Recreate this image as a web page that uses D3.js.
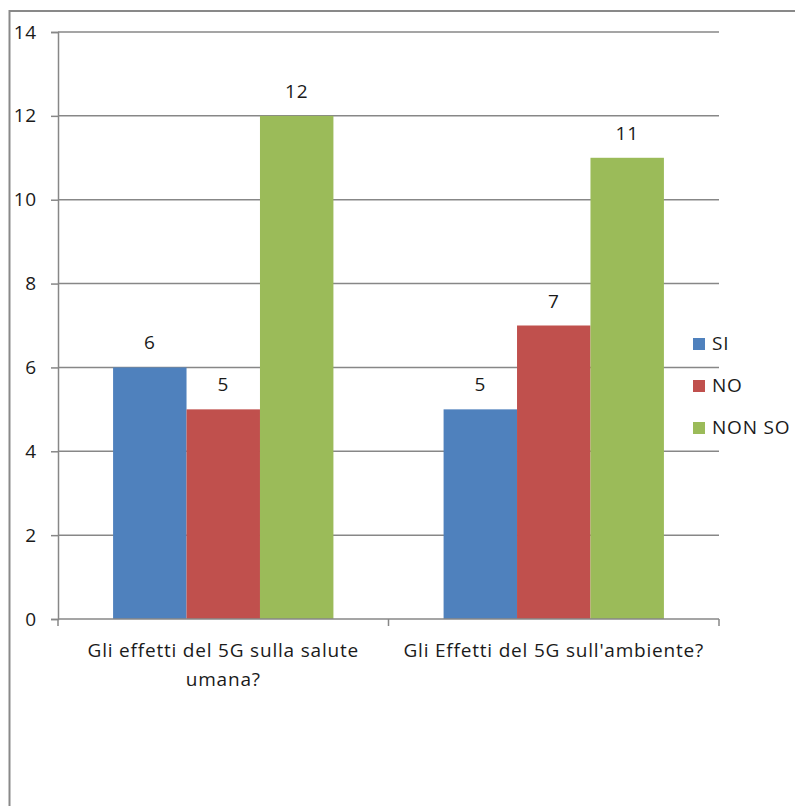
<!DOCTYPE html>
<html>
<head>
<meta charset="utf-8">
<script src="https://cdn.jsdelivr.net/npm/d3@7"></script>
<style>
  body { margin: 0; background: #fff; }
  svg text { font-family: "Open Sans", "Liberation Sans", Arial, sans-serif; fill: #1a1a1a; letter-spacing: 0.8px; }
</style>
</head>
<body>
<div id="chart"></div>
<script>
var categories = [["Gli effetti del 5G sulla salute", "umana?"], ["Gli Effetti del 5G sull'ambiente?"]];
var seriesNames = ["SI", "NO", "NON SO"];
var valuesSI = [6, 5];
var valuesNO = [5, 7];
var valuesNONSO = [12, 11];
var yTicks = [0, 2, 4, 6, 8, 10, 12, 14];
var colors = ["#4F81BD", "#C0504D", "#9BBB59"];

var width = 795, height = 806;
var margin = {left: 58, top: 32, right: 76, bottom: 187};
var plotW = width - margin.left - margin.right;
var plotH = height - margin.top - margin.bottom;
var fontSize = "19px";

var svg = d3.select("#chart").append("svg")
    .attr("width", width)
    .attr("height", height);

//outer chart frame, runs off the right and bottom of the picture
svg.append("rect")
    .attr("x", 9.5).attr("y", 11)
    .attr("width", 900).attr("height", 900)
    .attr("fill", "none")
    .attr("stroke", "#898989")
    .attr("stroke-width", 2);

var g = svg.append("g").attr("transform", "translate(" + margin.left + "," + margin.top + ")");

var catIdx = categories.map(function(d, i) { return i; });
var x0 = d3.scaleBand().domain(catIdx).range([0, plotW]).paddingInner(0).paddingOuter(0);
var x1 = d3.scaleBand().domain(seriesNames).range([0, x0.bandwidth()]).paddingInner(0).paddingOuter(0.75);
var y = d3.scaleLinear().domain([0, 14]).range([plotH, 0]);

var series = [valuesSI, valuesNO, valuesNONSO];
var rows = [];
catIdx.forEach(function(c) {
    seriesNames.forEach(function(s, j) {
        rows.push({cat: c, name: s, value: series[j][c], color: colors[j]});
    });
});

//gridlines
g.selectAll(".grid").data(yTicks.filter(function(t) { return t > 0; }))
    .enter().append("line")
    .attr("x1", 0).attr("x2", plotW)
    .attr("y1", function(d) { return y(d); })
    .attr("y2", function(d) { return y(d); })
    .attr("stroke", "#878787")
    .attr("stroke-width", 1.5);

//bars
g.selectAll(".bar").data(rows)
    .enter().append("rect")
    .attr("x", function(d) { return x0(d.cat) + x1(d.name); })
    .attr("y", function(d) { return y(d.value); })
    .attr("width", x1.bandwidth())
    .attr("height", function(d) { return plotH - y(d.value); })
    .attr("fill", function(d) { return d.color; });

//value labels
g.selectAll(".lbl").data(rows)
    .enter().append("text")
    .attr("x", function(d) { return x0(d.cat) + x1(d.name) + x1.bandwidth() / 2; })
    .attr("y", function(d) { return y(d.value) - 18; })
    .attr("text-anchor", "middle")
    .style("font-size", fontSize)
    .text(function(d) { return d.value; });

//y axis
var yAxis = g.append("g").call(d3.axisLeft(y).tickValues(yTicks).tickSize(7).tickPadding(14));
yAxis.select(".domain").attr("stroke", "#878787").attr("stroke-width", 1.5);
yAxis.selectAll(".tick line").attr("stroke", "#878787").attr("stroke-width", 1.5);
yAxis.selectAll(".tick text").style("font-size", fontSize).attr("fill", "#1a1a1a")
    .style("font-family", "Open Sans, Liberation Sans, Arial, sans-serif");

//x axis baseline and boundary ticks
var xAxis = g.append("g").attr("transform", "translate(0," + plotH + ")");
xAxis.append("line").attr("x1", 0).attr("x2", plotW)
    .attr("stroke", "#878787").attr("stroke-width", 1.5);
var bounds = catIdx.map(function(c) { return x0(c); }).concat([x0.range()[1]]);
xAxis.selectAll(".bt").data(bounds).enter().append("line")
    .attr("x1", function(d) { return d; }).attr("x2", function(d) { return d; })
    .attr("y1", 0).attr("y2", 7)
    .attr("stroke", "#878787").attr("stroke-width", 1.5);

//category labels
var cl = xAxis.selectAll(".cl").data(catIdx).enter().append("text")
    .attr("text-anchor", "middle")
    .attr("transform", function(c) { return "translate(" + (x0(c) + x0.bandwidth() / 2) + ",38)"; })
    .style("font-size", fontSize);
cl.selectAll("tspan").data(function(c) { return categories[c]; })
    .enter().append("tspan")
    .attr("x", 0)
    .attr("dy", function(d, i) { return i === 0 ? 0 : 29; })
    .text(function(d) { return d; });

//legend
var legend = svg.append("g").attr("transform", "translate(693,338)");
var li = legend.selectAll(".li").data(seriesNames).enter().append("g")
    .attr("transform", function(d, i) { return "translate(0," + (i * 42) + ")"; });
li.append("rect").attr("width", 12).attr("height", 12)
    .attr("fill", function(d, i) { return colors[i]; });
li.append("text").attr("x", 19).attr("y", 12)
    .style("font-size", fontSize)
    .text(function(d) { return d; });
</script>
</body>
</html>
